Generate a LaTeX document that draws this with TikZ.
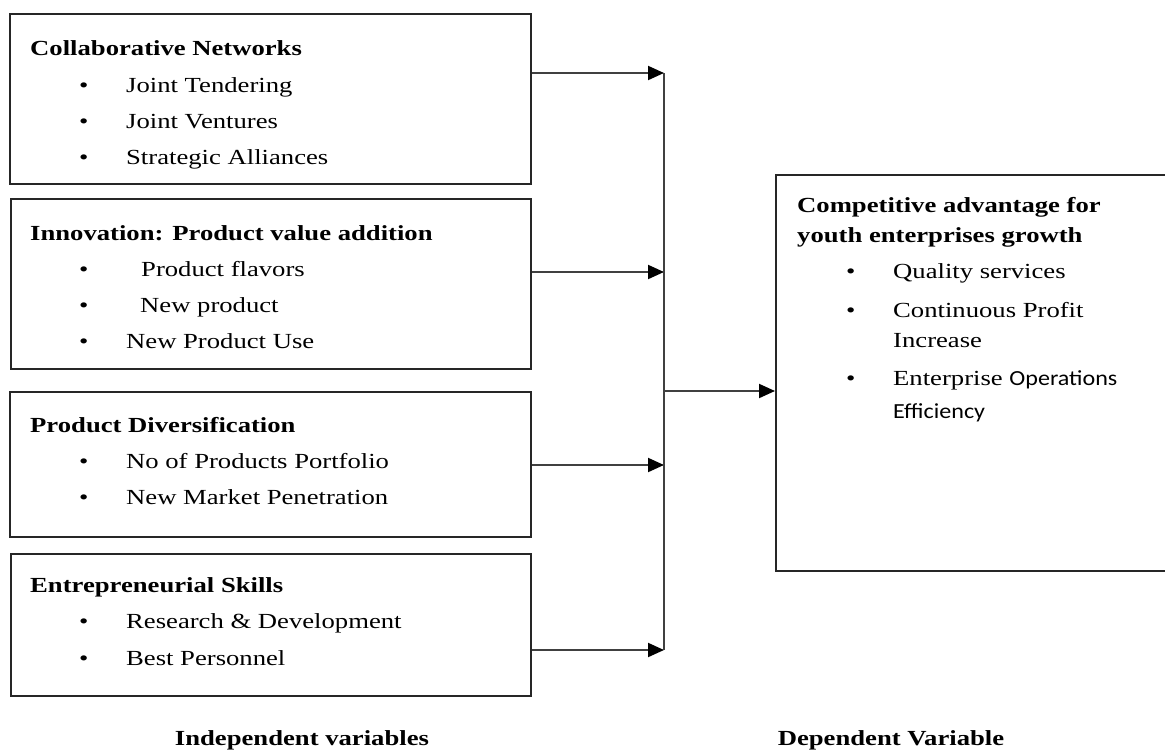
\documentclass[tikz,border=0pt]{standalone}
\usepackage{fontspec}
\setmainfont{Liberation Serif}[FakeStretch=1.24]
\newfontfamily\calfont{Carlito}[FakeStretch=1.12]
\usetikzlibrary{arrows.meta}
\colorlet{frameGray}{black!85}
\colorlet{lineGray}{black!75}

% one bullet line: indent, bullet, text
\newcommand{\itm}[1]{\hspace*{49pt}\makebox[47pt][l]{\textbullet}#1}

\begin{document}
\begin{tikzpicture}[
    x=1pt, y=-1pt,
    frame/.style={
        rectangle,
        draw=frameGray,
        line width=2pt,
        anchor=north west,
        inner sep=0,
      },
    txt/.style={anchor=north west, align=left, inner sep=0,
        font=\fontsize{21.5}{36}\selectfont},
    ln/.style={line width=2pt, draw=lineGray},
    arr/.style={ln, -{Triangle[length=16pt, width=14pt, color=black]}},
    varlabel/.style={anchor=base, font=\fontsize{21.5}{26}\selectfont\bfseries},
  ]
  \useasboundingbox (0,0) rectangle (1165,753);

  \node[frame, minimum width=521pt, minimum height=170pt] (cn) at (9,13) {};
  \node[frame, minimum width=520pt, minimum height=170pt] (in) at (10,198) {};
  \node[frame, minimum width=521pt, minimum height=145pt] (pd) at (9,391) {};
  \node[frame, minimum width=520pt, minimum height=142pt] (es) at (10,553) {};
  \node[frame, minimum width=392pt, minimum height=396pt] (ca) at (775,174) {};

  \node[txt] (cnt) at (30,40) {\textbf{Collaborative Networks}\\[1pt]
    \itm{Joint Tendering}\\
    \itm{Joint Ventures}\\
    \itm{Strategic Alliances}};
  \node[txt] (int) at (30,225) {\textbf{Innovation: Product value addition}\\
    \itm{\hspace*{15pt}Product flavors}\\
    \itm{\hspace*{14pt}New product}\\
    \itm{New Product Use}};
  \node[txt] (pdt) at (30,417) {\textbf{Product Diversification}\\
    \itm{No of Products Portfolio}\\
    \itm{New Market Penetration}};
  \node[txt] (est) at (30,577) {\textbf{Entrepreneurial Skills}\\
    \itm{Research \& Development}\\[1pt]
    \itm{Best Personnel}};
  \node[txt, font=\fontsize{21.5}{30}\selectfont] (cat) at (797,197) {%
    \textbf{Competitive advantage for}\\
    \textbf{youth enterprises growth}\\[6pt]
    \itm{Quality services}\\[9pt]
    \itm{Continuous Profit}\\
    \hspace*{96pt}Increase\\[8pt]
    \itm{Enterprise {\calfont Operations}}\\[3pt]
    \hspace*{96pt}{\calfont Efficiency}};

  \node[varlabel] (iv) at (302,745) {Independent variables};
  \node[varlabel] (dv) at (891,745) {Dependent Variable};

  \coordinate (j1) at (664,73);
  \coordinate (j2) at (664,272);
  \coordinate (j3) at (664,465);
  \coordinate (j4) at (664,650);
  \coordinate (jm) at (664,391);

  \draw[arr] (j1 -| cn.east) -- (j1);
  \draw[arr] (j2 -| in.east) -- (j2);
  \draw[arr] (j3 -| pd.east) -- (j3);
  \draw[arr] (j4 -| es.east) -- (j4);
  \draw[ln] (j1) -- (j4);
  \draw[arr] (jm) -- (jm -| ca.west);
\end{tikzpicture}
\end{document}
